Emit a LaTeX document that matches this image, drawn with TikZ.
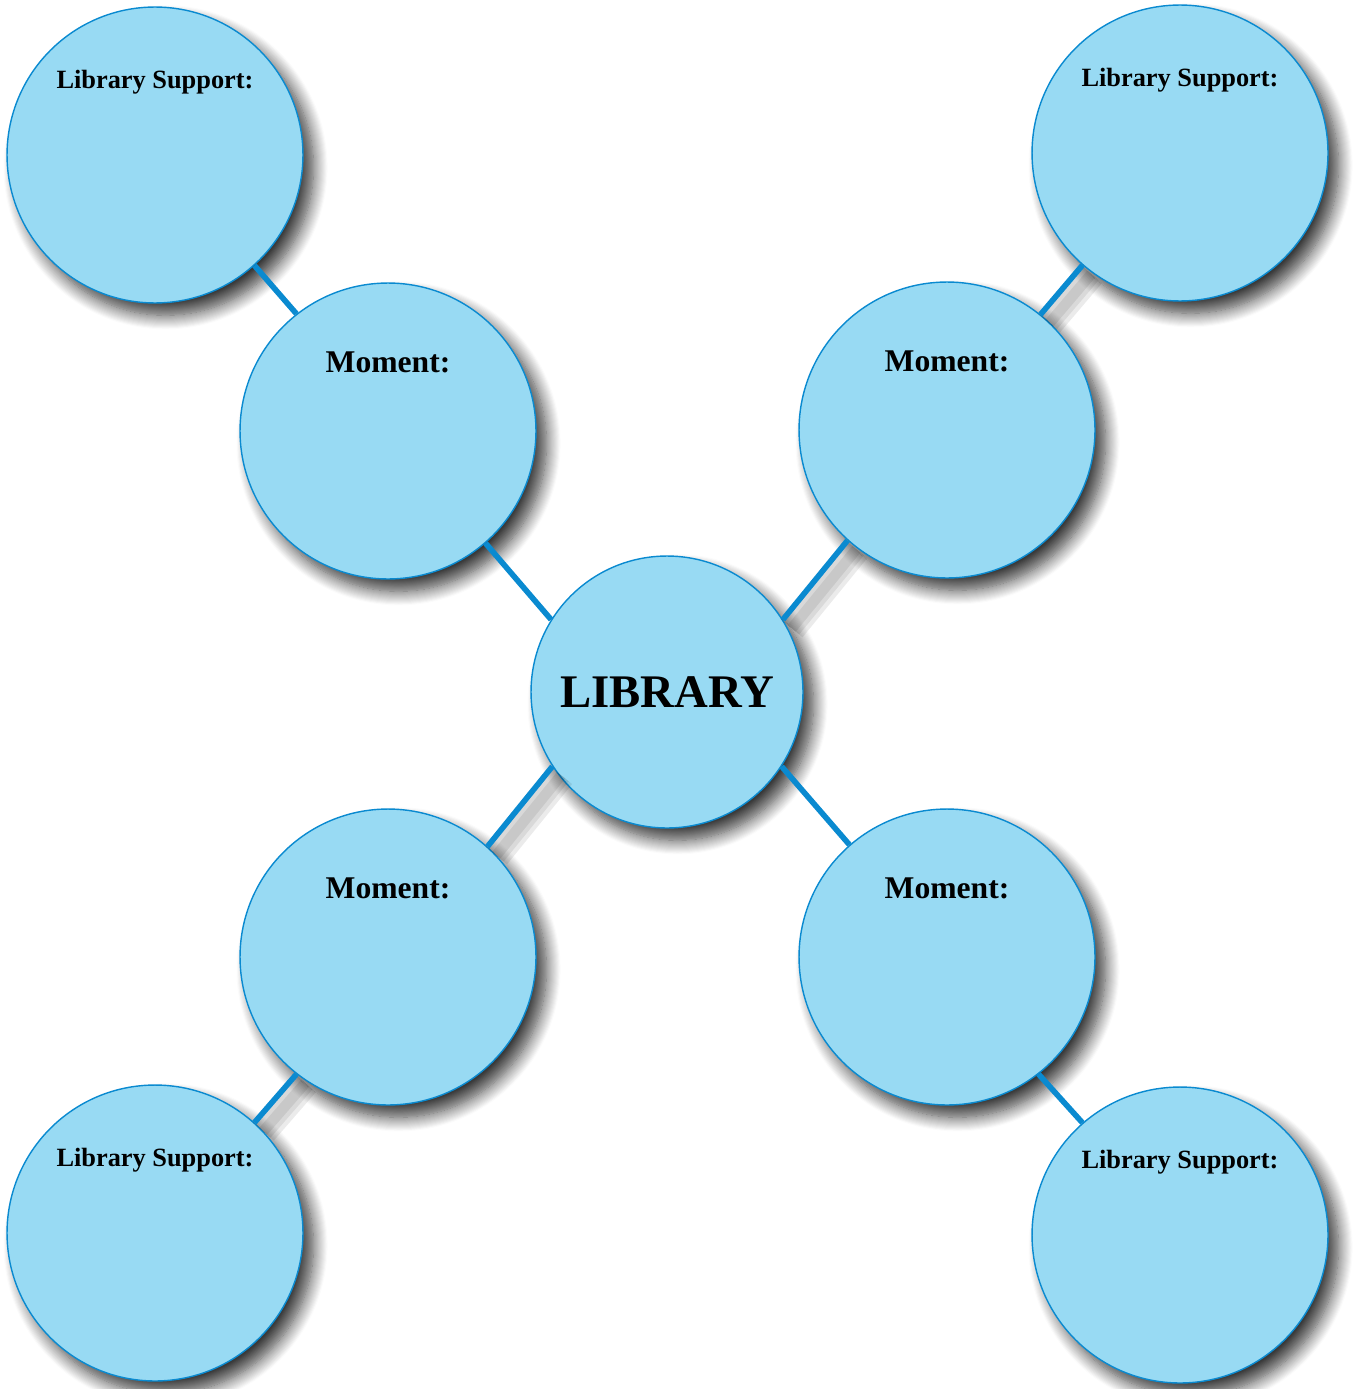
\documentclass[tikz,border=0pt]{standalone}
\usepackage{fontspec}
\setmainfont{Liberation Serif}
\usetikzlibrary{shadows.blur}
\definecolor{bubble}{HTML}{98DAF3}
\definecolor{rim}{HTML}{0A8AD0}
\begin{document}
\begin{tikzpicture}[x=0.02cm,y=-0.02cm,
        bub/.style={circle,draw=rim,fill=bubble,line width=0.8pt,minimum size=5.92cm,inner sep=0pt,
          blur shadow={shadow xshift=6pt,shadow yshift=-7pt,shadow blur radius=8pt,shadow blur steps=14,shadow opacity=78}},
        support/.style={bub,label={[anchor=center,yshift=-43pt,font=\bfseries\fontsize{15}{18}\selectfont]north:{Library Support:}}},
        moment/.style={bub,label={[anchor=center,yshift=-45.5pt,font=\bfseries\fontsize{18}{22}\selectfont]north:{Moment:}}},
        link/.style={rim,line width=3.2pt},
        linkshade/.style={black,opacity=0.08,line width=#1,transform canvas={shift={(5pt,-5pt)}}}]
        \useasboundingbox (0,0) rectangle (1354,1389);
        % bubbles
        \node[bub,minimum size=5.44cm,font=\bfseries\fontsize{26.6}{30}\selectfont] (lib) at (667,692) {LIBRARY};
        \node[moment] (m1) at (388,431) {};
        \node[moment] (m2) at (947,430) {};
        \node[moment] (m3) at (388,957) {};
        \node[moment] (m4) at (947,957) {};
        \node[support] (s1) at (155,155) {};
        \node[support] (s2) at (1180,153) {};
        \node[support] (s3) at (155,1233) {};
        \node[support] (s4) at (1180,1235) {};
        % shadows of the links
        \begin{scope}
          \clip (0,0) rectangle (1354,1389);
          \foreach \w in {16pt,11pt,6pt} {
            \draw[linkshade=\w] (m2.-132)--(lib.32);
            \draw[linkshade=\w] (lib.-147)--(m3.48);
            \draw[linkshade=\w] (s2.-131)--(m2.51);
            \draw[linkshade=\w] (m3.-128)--(s3.48);
          }
        \end{scope}
        % links
        \draw[link] (s1.-48)--(m1.128);
        \draw[link] (s2.-131)--(m2.51);
        \draw[link] (m3.-128)--(s3.48);
        \draw[link] (m4.-52)--(s4.131);
        \draw[link] (m1.-49)--(lib.148);
        \draw[link] (m2.-132)--(lib.32);
        \draw[link] (lib.-147)--(m3.48);
        \draw[link] (lib.-33)--(m4.131);
\end{tikzpicture}
\end{document}
